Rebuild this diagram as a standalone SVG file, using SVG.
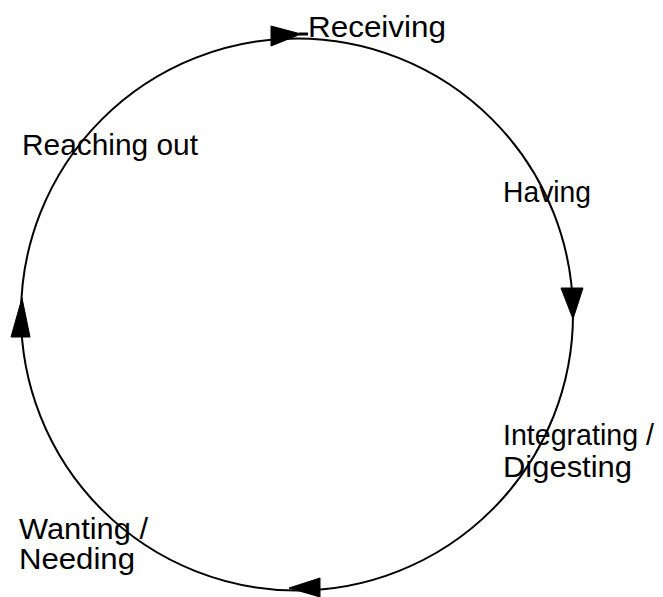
<svg xmlns="http://www.w3.org/2000/svg" width="663" height="597" viewBox="0 0 663 597">
<style>
  .lbl { font-family: "Liberation Sans", Arial, sans-serif; font-size: 29px; fill: #000; }
  .ring { fill: none; stroke: #000; stroke-width: 2; }
  .head { fill: #000; stroke: #000; stroke-width: 1; }
</style>
<rect width="663" height="597" fill="#fff"/>
<g id="connectors">
  <circle class="ring" cx="297" cy="314.5" r="276"/>
  <polygon class="head" points="271,26 271,46 301,34"/>
  <line x1="299" y1="34" x2="308" y2="34" stroke="#000" stroke-width="3"/>
  <polygon class="head" points="561,288 583,288 573,319"/>
  <polygon class="head" points="289,588 320,578 320,597"/>
  <polygon class="head" points="22,298 11,337 30,337"/>
</g>
<g id="receiving"><text class="lbl" x="308" y="37" textLength="138" lengthAdjust="spacingAndGlyphs">Receiving</text></g>
<g id="having"><text class="lbl" x="503" y="202" textLength="88" lengthAdjust="spacingAndGlyphs">Having</text></g>
<g id="integrating"><text class="lbl" x="503" y="445" textLength="151" lengthAdjust="spacingAndGlyphs">Integrating /</text><text class="lbl" x="503" y="477" textLength="129" lengthAdjust="spacingAndGlyphs">Digesting</text></g>
<g id="wanting"><text class="lbl" x="19" y="539" textLength="129" lengthAdjust="spacingAndGlyphs">Wanting /</text><text class="lbl" x="19" y="569" textLength="116" lengthAdjust="spacingAndGlyphs">Needing</text></g>
<g id="reaching"><text class="lbl" x="22" y="155" textLength="176" lengthAdjust="spacingAndGlyphs">Reaching out</text></g>
</svg>
